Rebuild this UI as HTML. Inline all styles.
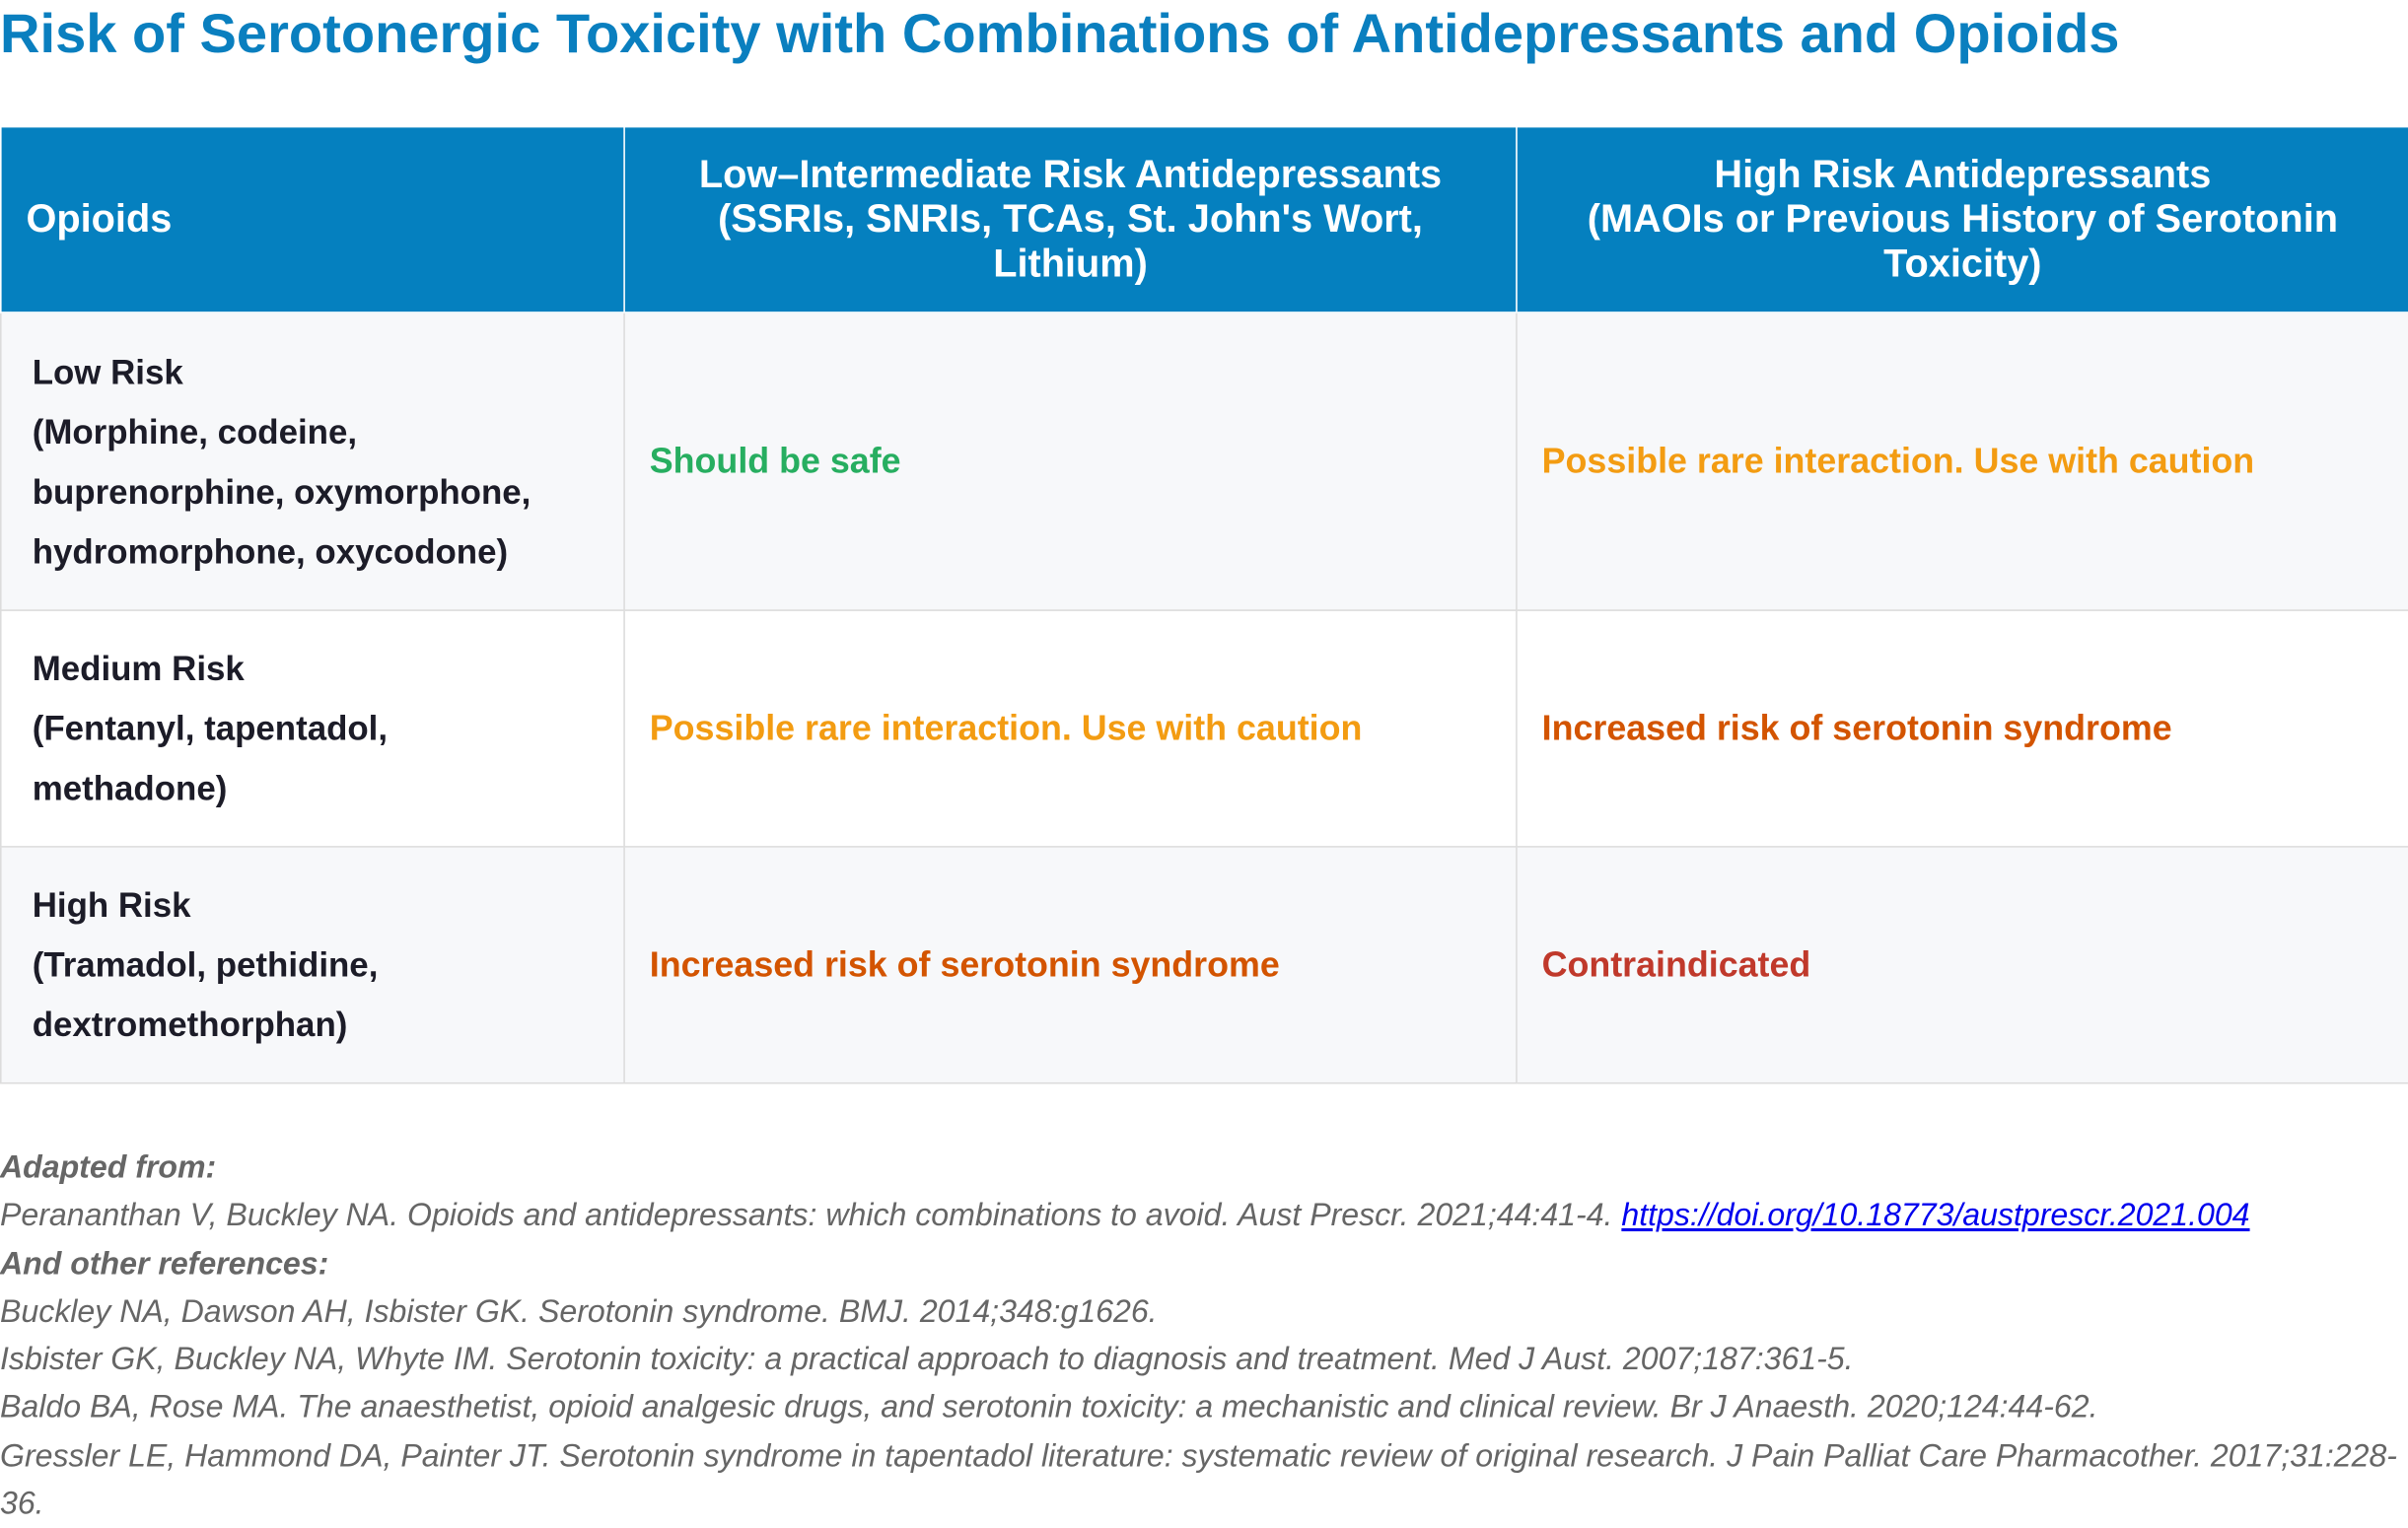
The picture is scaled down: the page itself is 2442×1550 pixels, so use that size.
<!DOCTYPE html>
<html><head><meta charset="utf-8"><style>
html,body{margin:0;padding:0;background:#fff;}
body{width:2442px;height:1544px;overflow:hidden;}
#w{width:1568px;height:992px;transform:scale(1.5574);transform-origin:0 0;position:relative;font-family:"Liberation Sans",Arial,sans-serif;}
h1{position:absolute;left:0;top:1px;margin:0;font-size:36px;font-weight:bold;color:#0a7fbf;white-space:nowrap;}
table{position:absolute;left:0;top:82px;width:1568px;border-collapse:collapse;table-layout:fixed;}
th{background:#0580bf;color:#fff;font-size:25.5px;font-weight:bold;line-height:29px;border:1px solid #fff;height:120px;padding:0 6px;}
th.l{text-align:left;padding-left:16px;}
td{border:1px solid #dcdcdc;font-size:23px;font-weight:bold;line-height:39px;padding:0 10px 0 16px;color:#1c1c28;}
td.c1{font-size:22.4px;padding-left:20px;}
tr.a td{background:#f7f8fa;}
tr.b td{background:#fff;}
.g{color:#27ae60}.o{color:#f39c12}.d{color:#d35400}.r{color:#c0392b}
#f{position:absolute;left:0;top:745px;font-size:20.6px;font-style:italic;color:#666;line-height:31.3px;white-space:nowrap;}
#f b{font-weight:bold}
#f a{color:#0000ee;text-decoration:underline}
</style></head><body><div id="w">
<h1>Risk of Serotonergic Toxicity with Combinations of Antidepressants and Opioids</h1>
<table>
<colgroup><col style="width:406px"><col style="width:581px"><col style="width:581px"></colgroup>
<tr><th class="l">Opioids</th><th>Low–Intermediate Risk Antidepressants<br>(SSRIs, SNRIs, TCAs, St. John's Wort,<br>Lithium)</th><th>High Risk Antidepressants<br>(MAOIs or Previous History of Serotonin<br>Toxicity)</th></tr>
<tr class="a" style="height:194px"><td class="c1">Low Risk<br>(Morphine, codeine,<br>buprenorphine, oxymorphone,<br>hydromorphone, oxycodone)</td><td class="g">Should be safe</td><td class="o">Possible rare interaction. Use with caution</td></tr>
<tr class="b" style="height:154px"><td class="c1">Medium Risk<br>(Fentanyl, tapentadol,<br>methadone)</td><td class="o">Possible rare interaction. Use with caution</td><td class="d">Increased risk of serotonin syndrome</td></tr>
<tr class="a" style="height:154px"><td class="c1">High Risk<br>(Tramadol, pethidine,<br>dextromethorphan)</td><td class="d">Increased risk of serotonin syndrome</td><td class="r">Contraindicated</td></tr>
</table>
<div id="f">
<b>Adapted from:</b><br>
Perananthan V, Buckley NA. Opioids and antidepressants: which combinations to avoid. Aust Prescr. 2021;44:41-4. <a>https://doi.org/10.18773/austprescr.2021.004</a><br>
<b>And other references:</b><br>
Buckley NA, Dawson AH, Isbister GK. Serotonin syndrome. BMJ. 2014;348:g1626.<br>
Isbister GK, Buckley NA, Whyte IM. Serotonin toxicity: a practical approach to diagnosis and treatment. Med J Aust. 2007;187:361-5.<br>
Baldo BA, Rose MA. The anaesthetist, opioid analgesic drugs, and serotonin toxicity: a mechanistic and clinical review. Br J Anaesth. 2020;124:44-62.<br>
Gressler LE, Hammond DA, Painter JT. Serotonin syndrome in tapentadol literature: systematic review of original research. J Pain Palliat Care Pharmacother. 2017;31:228-<br>
36.
</div>
</div></body></html>
